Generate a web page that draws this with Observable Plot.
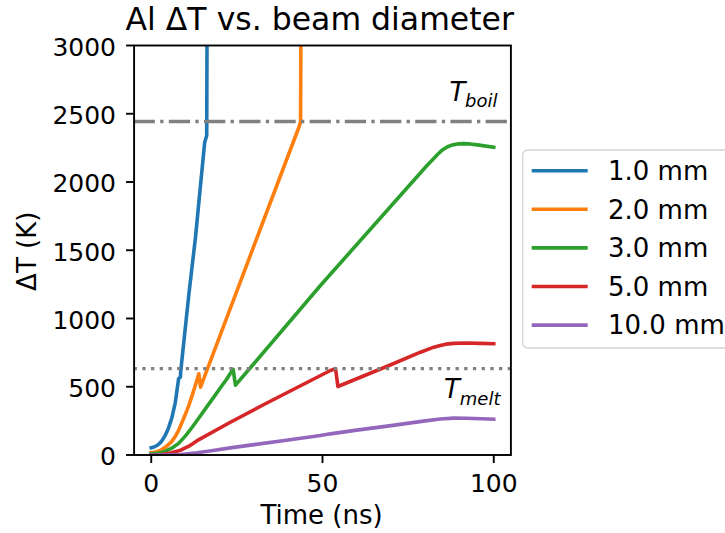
<!DOCTYPE html>
<html><head><meta charset="utf-8">
<script src="https://cdn.jsdelivr.net/npm/d3@7"></script>
<script src="https://cdn.jsdelivr.net/npm/@observablehq/plot@0.6"></script>
<style>
html,body{margin:0;padding:0;background:#fff;overflow:hidden;}
#chart{width:725px;height:533px;}
</style></head><body><div id="chart"></div>
<script>
const series = ["1.0 mm", "2.0 mm", "3.0 mm", "5.0 mm", "10.0 mm"];
const colors = ["#1f77b4", "#ff7f0e", "#2ca02c", "#d62728", "#9467bd"];

const t1 = [0, 1, 2, 3, 4, 5, 6, 7, 8.0, 8.5, 8.6, 11, 12.9, 15.6, 16.2, 16.3];
const v1 = [53, 60, 75, 100, 140, 195, 270, 380, 560, 570, 610, 1180, 1590, 2290, 2340, 3200];

const t2 = [0, 1, 2, 3, 4, 5, 6, 7, 8, 9, 10, 11, 12, 13, 13.9, 14.4, 30.4, 43.3, 43.6, 43.7];
const v2 = [18, 20, 28, 38, 55, 75, 100, 135, 180, 240, 300, 365, 440, 520, 595, 497, 1560, 2414, 2445, 3200];

const t3 = [0, 2, 4, 6, 8, 10, 12, 14, 16, 18, 20, 22, 23.9, 24.6, 30, 49.4, 80.5, 82, 83.5, 85, 86.5, 88, 89.5, 91, 93, 95.2, 100];
const v3 = [8, 12, 26, 50, 85, 140, 205, 275, 345, 415, 485, 555, 628, 512, 670, 1242, 2121, 2160, 2200, 2235, 2258, 2272, 2279, 2281, 2279, 2272, 2255];

const t4 = [0, 3, 5.6, 8.6, 11, 13.4, 23.1, 32.9, 52.3, 53.8, 54.5, 68.9, 78.6, 82.5, 84.4, 86, 88.3, 92, 96, 100];
const v4 = [0, 3, 15, 35, 65, 105, 240, 370, 619, 633, 502, 650, 753, 790, 802, 812, 818, 820, 818, 815];

const t5 = [0, 5, 8.6, 13.4, 18, 23.1, 30, 40, 49.4, 52.3, 60, 70, 80, 84.4, 88.3, 92, 100];
const v5 = [0, 1, 4, 16, 33, 52, 76, 110, 143, 155, 182, 215, 250, 264, 270, 269, 262];

const T_BOIL = 2443;
const T_MELT = 633;
const xTicks = [0, 50, 100];
const yTicks = [0, 500, 1000, 1500, 2000, 2500, 3000];
const title = "Al ΔT vs. beam diameter";
const xLabel = "Time (ns)";
const yLabel = "ΔT (K)";

const times = [t1, t2, t3, t4, t5];
const vals = [v1, v2, v3, v4, v5];
const rows = [];
series.forEach((s, i) => times[i].forEach((t, j) => rows.push({s, t, v: vals[i][j]})));

const FS = 25;
const LW = 3.6;
const chart = Plot.plot({
  width: 725, height: 533,
  marginLeft: 133.6, marginRight: 214.6, marginTop: 45, marginBottom: 78.5,
  style: {fontFamily: "'DejaVu Sans', sans-serif", fontSize: FS + "px", background: "white", color: "black", overflow: "hidden"},
  x: {domain: [-5, 105]},
  y: {domain: [0, 3000]},
  color: {domain: series, range: colors},
  marks: [
    Plot.line(rows, {x: "t", y: "v", z: "s", stroke: "s", strokeWidth: LW, clip: true, strokeLinejoin: "round", strokeLinecap: "square"}),
    Plot.ruleY([T_BOIL], {stroke: "#808080", strokeWidth: 3.4, strokeDasharray: "21.3,5.3,3.3,5.3"}),
    Plot.ruleY([T_MELT], {stroke: "#808080", strokeWidth: 3.4, strokeDasharray: "3.3,5.4"}),
    Plot.frame({stroke: "black", strokeWidth: 1.9}),
    Plot.axisX({ticks: xTicks, tickSize: 8.5, fill: "none", strokeWidth: 1.9, label: null}),
    Plot.axisX({ticks: xTicks, tickSize: 0, tickPadding: 18.75, tickFormat: "d", fontSize: FS, label: null}),
    Plot.axisY({ticks: yTicks, tickSize: 7.5, fill: "none", strokeWidth: 1.9, label: null}),
    Plot.axisY({ticks: yTicks, tickSize: 0, tickPadding: 18.1, tickFormat: "d", fontSize: FS, dy: 2.25, label: null}),
    Plot.text([title], {text: d => d, frameAnchor: "top", dy: -16, dx: -2.8, lineAnchor: "bottom", fontSize: 31.5}),
    Plot.text([xLabel], {text: d => d, frameAnchor: "bottom", dy: 68.5, dx: -1, lineAnchor: "bottom", fontSize: 26}),
    Plot.text([yLabel], {text: d => d, frameAnchor: "left", rotate: -90, dx: -98, dy: 1, lineAnchor: "bottom", textAnchor: "middle", fontSize: 26}),
    Plot.text([T_BOIL], {y: d => d, text: () => "T", frameAnchor: "right", textAnchor: "end", lineAnchor: "bottom", dx: -45.5, dy: -21, fontSize: 26, fontStyle: "italic"}),
    Plot.text([T_BOIL], {y: d => d, text: () => "boil", frameAnchor: "right", textAnchor: "end", lineAnchor: "bottom", dx: -13.4, dy: -14.3, fontSize: 18, fontStyle: "italic"}),
    Plot.text([T_MELT], {y: d => d, text: () => "T", frameAnchor: "right", textAnchor: "end", lineAnchor: "bottom", dx: -51, dy: 29.6, fontSize: 26, fontStyle: "italic"}),
    Plot.text([T_MELT], {y: d => d, text: () => "melt", frameAnchor: "right", textAnchor: "end", lineAnchor: "bottom", dx: -10.4, dy: 36.3, fontSize: 18, fontStyle: "italic"})
  ]
});

// legend
const svg = d3.select(chart);
const g = svg.append("g").attr("text-anchor", "start");
g.append("rect").attr("x", 522.7).attr("y", 150).attr("width", 260).attr("height", 198)
  .attr("rx", 5).attr("fill", "white").attr("fill-opacity", 0.8)
  .attr("stroke", "#d4d4d4").attr("stroke-width", 1.3);
series.forEach((s, i) => {
  const y = 170.7 + i * 38.6;
  g.append("line").attr("x1", 531.7).attr("x2", 587.7).attr("y1", y).attr("y2", y)
    .attr("stroke", colors[i]).attr("stroke-width", LW);
  g.append("text").attr("x", 608).attr("y", y + 9.3)
    .style("font-size", "26px").style("text-anchor", "start").attr("fill", "black").text(s);
});

document.getElementById("chart").appendChild(chart);
</script>
</body></html>
